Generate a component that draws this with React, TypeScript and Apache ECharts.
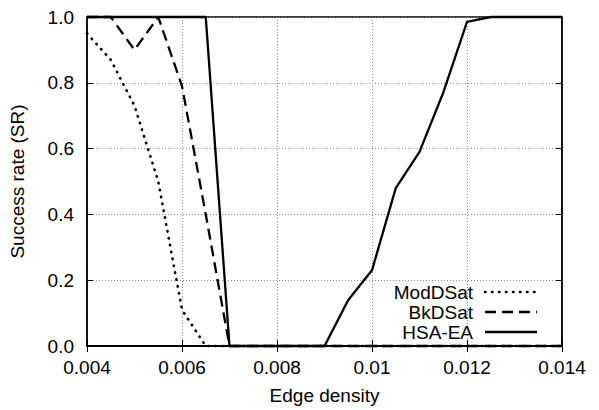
import React, { useEffect, useRef } from "react";
import * as echarts from "echarts";

const xValues = [
  0.004, 0.0045, 0.005, 0.0055, 0.006, 0.0065, 0.007, 0.0075, 0.008, 0.0085,
  0.009, 0.0095, 0.01, 0.0105, 0.011, 0.0115, 0.012, 0.0125, 0.013, 0.0135, 0.014,
];
const modDSat = [0.95, 0.87, 0.73, 0.5, 0.11, 0, 0, 0, 0, 0, 0, 0, 0, 0, 0, 0, 0, 0, 0, 0, 0];
const bkDSat = [1, 1, 0.9, 1, 0.79, 0.4, 0, 0, 0, 0, 0, 0, 0, 0, 0, 0, 0, 0, 0, 0, 0];
const hsaEA = [1, 1, 1, 1, 1, 1, 0, 0, 0, 0, 0, 0.14, 0.23, 0.48, 0.59, 0.77, 0.985, 1, 1, 1, 1];

const seriesNames = ["ModDSat", "BkDSat", "HSA-EA"];
const xTicks = { min: 0.004, max: 0.014, interval: 0.002 };
const yTicks = { min: 0, max: 1, interval: 0.2 };

const FONT = "Liberation Sans, Arial, Helvetica, sans-serif";
const FS = 19;

const dotted = [0.5, 6.5];
const dashed = [11, 6];

export default function App() {
  const ref = useRef<HTMLDivElement>(null);
  useEffect(() => {
    if (!ref.current) return;
    document.body.style.margin = "0";
    const chart = echarts.init(ref.current, null, { renderer: "svg" });
    const toPairs = (ys: number[]) => xValues.map((x, i) => [x, ys[i]]);
    const styles: any[] = [
      { type: dotted, width: 2.6, cap: "round" },
      { type: dashed, width: 2.3, cap: "butt" },
      { type: "solid", width: 2.3, cap: "butt" },
    ];
    const datasets = [modDSat, bkDSat, hsaEA];

    const left = 86, right = 562, top = 17, bottom = 346;
    const legendTextX = 473;
    const legendLineX0 = 485, legendLineX1 = 537;
    const legendY = [292, 312, 332];

    const graphic: any[] = [];
    seriesNames.forEach((n, i) => {
      graphic.push({
        type: "text",
        x: legendTextX,
        y: legendY[i],
        style: {
          text: n,
          fill: "#000",
          font: `${FS}px ${FONT}`,
          textAlign: "right",
          textVerticalAlign: "middle",
        },
        z: 100,
      });
      graphic.push({
        type: "line",
        shape: { x1: legendLineX0, y1: legendY[i], x2: legendLineX1, y2: legendY[i] },
        style: {
          stroke: "#000",
          lineWidth: styles[i].width,
          lineCap: styles[i].cap,
          lineDash: Array.isArray(styles[i].type) ? (styles[i].type as number[]) : null,
        },
        z: 100,
      });
    });

    const axisCommon = {
      axisLine: { show: true, lineStyle: { color: "#000", width: 1.5 } },
      axisTick: { show: true, inside: true, length: 6, lineStyle: { color: "#000", width: 1 } },
    };

    chart.setOption({
      animation: false,
      backgroundColor: "#fff",
      grid: {
        left,
        right: 599 - right,
        top,
        bottom: 410 - bottom,
        show: true,
        borderColor: "#000",
        borderWidth: 1.5,
        backgroundColor: "transparent",
      },
      xAxis: [
        {
          type: "value",
          ...xTicks,
          ...axisCommon,
          name: "Edge density",
          nameLocation: "middle",
          nameGap: 40,
          nameTextStyle: { color: "#000", fontSize: FS, fontFamily: FONT },
          axisLabel: {
            color: "#000",
            fontSize: FS,
            fontFamily: FONT,
            margin: 12,
            formatter: (v: number) => String(Number(v.toFixed(4))),
          },
          splitLine: { show: true, lineStyle: { color: "#888", width: 1, type: [1, 2] } },
        },
        {
          type: "value",
          position: "top",
          ...xTicks,
          ...axisCommon,
          axisLabel: { show: false },
          splitLine: { show: false },
        },
      ],
      yAxis: [
        {
          type: "value",
          ...yTicks,
          ...axisCommon,
          name: "Success rate (SR)",
          nameLocation: "middle",
          nameGap: 60,
          nameTextStyle: { color: "#000", fontSize: FS, fontFamily: FONT },
          axisLabel: {
            color: "#000",
            fontSize: FS,
            fontFamily: FONT,
            margin: 13,
            formatter: (v: number) => v.toFixed(1),
          },
          splitLine: { show: true, lineStyle: { color: "#888", width: 1, type: [1, 2] } },
        },
        {
          type: "value",
          position: "right",
          ...yTicks,
          ...axisCommon,
          axisLabel: { show: false },
          splitLine: { show: false },
        },
      ],
      series: seriesNames.map((n, i) => ({
        name: n,
        type: "line",
        xAxisIndex: 0,
        yAxisIndex: 0,
        data: toPairs(datasets[i]),
        showSymbol: false,
        symbol: "none",
        clip: false,
        lineStyle: { color: "#000", width: styles[i].width, type: styles[i].type, cap: styles[i].cap },
        z: 3 + i,
      })),
      graphic,
    });
    return () => chart.dispose();
  }, []);
  return <div ref={ref} style={{ width: 599, height: 410 }} />;
}
